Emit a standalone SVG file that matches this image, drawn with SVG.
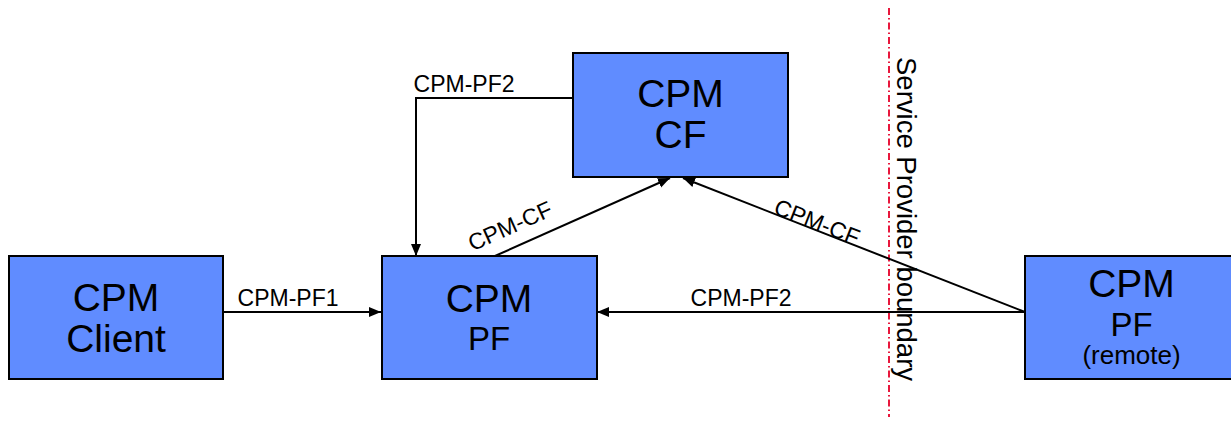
<svg xmlns="http://www.w3.org/2000/svg" width="1231" height="423" viewBox="0 0 1231 423">
<style>
.box{fill:#608cff;stroke:#000;stroke-width:2}
.big{font-family:"Liberation Sans",Arial,sans-serif;font-size:39px;fill:#000;text-anchor:middle}
.mid{font-family:"Liberation Sans",Arial,sans-serif;font-size:33px;fill:#000;text-anchor:middle}
.lbl{font-family:"Liberation Sans",Arial,sans-serif;font-size:23px;fill:#000;text-anchor:middle}
.sub{font-family:"Liberation Sans",Arial,sans-serif;font-size:26px;fill:#000;text-anchor:middle}
.conn{fill:none;stroke:#000;stroke-width:2}
</style>
<defs>
<marker id="arr" viewBox="0 0 12 12" refX="12" refY="6" markerWidth="12" markerHeight="12" markerUnits="userSpaceOnUse" orient="auto">
<path d="M0,1 L12,6 L0,11 z" fill="#000"/>
</marker>
</defs>
<rect width="1231" height="423" fill="#fff"/>
<g id="boundary">
<line x1="889" y1="8" x2="889" y2="417" stroke="#e8173c" stroke-width="2" stroke-dasharray="7 3 1.5 3"/>
<text transform="translate(897,57) rotate(90)" font-family="Liberation Sans,Arial,sans-serif" font-size="27.5" fill="#000">Service Provider boundary</text>
</g>
<g id="connectors">
<path class="conn" d="M573,98 H416 V256" marker-end="url(#arr)"/>
<line class="conn" x1="495" y1="256" x2="670" y2="178" marker-end="url(#arr)"/>
<line class="conn" x1="1025" y1="312" x2="683" y2="178" marker-end="url(#arr)"/>
<line class="conn" x1="223" y1="312" x2="381" y2="312" marker-end="url(#arr)"/>
<line class="conn" x1="1025" y1="312" x2="597" y2="312" marker-end="url(#arr)"/>
<text class="lbl" x="464" y="92">CPM-PF2</text>
<text class="lbl" transform="translate(510,226) rotate(-24)" y="8">CPM-CF</text>
<text class="lbl" transform="translate(817,222) rotate(21.4)" y="8">CPM-CF</text>
<text class="lbl" x="288" y="306">CPM-PF1</text>
<text class="lbl" x="741" y="306">CPM-PF2</text>
</g>
<g id="node-cf">
<rect class="box" x="573" y="53" width="215" height="124"/>
<text class="big" x="680.5" y="107">CPM</text>
<text class="big" x="680.5" y="148">CF</text>
</g>
<g id="node-client">
<rect class="box" x="9" y="256" width="214" height="123"/>
<text class="big" x="116" y="311">CPM</text>
<text class="big" x="116" y="352">Client</text>
</g>
<g id="node-pf">
<rect class="box" x="382" y="256" width="215" height="123"/>
<text class="big" x="489" y="312">CPM</text>
<text class="mid" x="489" y="350">PF</text>
</g>
<g id="node-remote">
<rect class="box" x="1025" y="256" width="212" height="123"/>
<text class="big" x="1131.5" y="297">CPM</text>
<text class="mid" x="1131.5" y="336">PF</text>
<text class="sub" x="1131.5" y="364">(remote)</text>
</g>
</svg>
